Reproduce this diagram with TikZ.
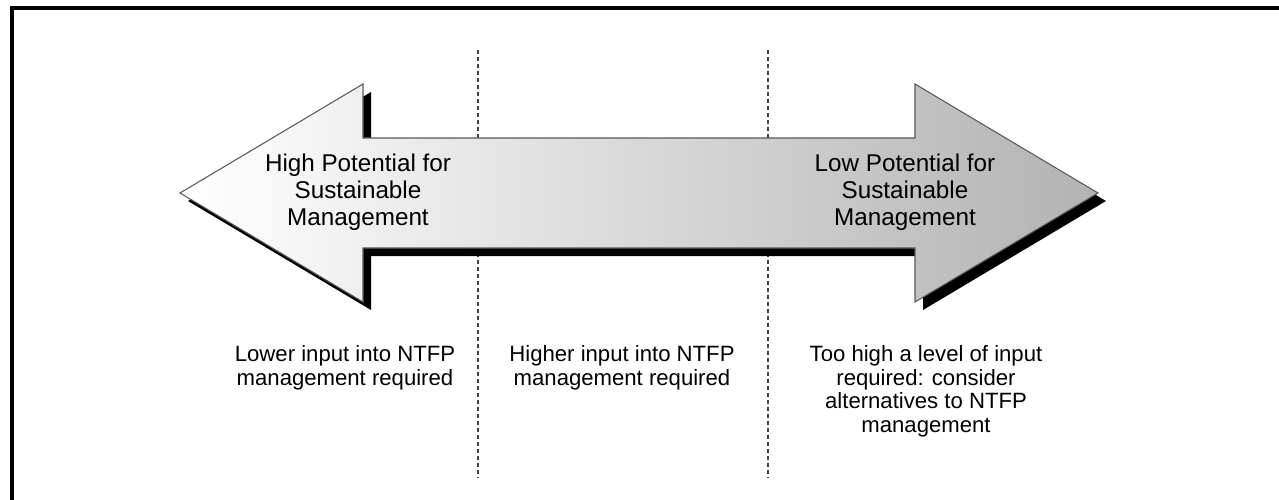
\documentclass[tikz,border=0pt]{standalone}
\usepackage{fontspec}
\setmainfont{Liberation Sans}
\usepackage{xcolor}
\usepackage{tikz}
\usetikzlibrary{positioning}
\tikzset{every node/.style={align=center}}

\newcommand{\dblarrow}{(180,193) -- (363,84) -- (363,138) -- (915,138) -- (915,84) -- (1098,193)
  -- (915,302) -- (915,248) -- (363,248) -- (363,302) -- cycle}

\begin{document}
\begin{tikzpicture}[
    x=0.02cm, y=-0.02cm,
    frame/.style={line width=2.2pt},
    divider/.style={dashed, dash pattern=on 0.08cm off 0.06cm, line width=0.7pt, black!75},
    shaftfill/.style={left color=white, right color=black!30, draw=black!65, line width=0.6pt},
    bigtxt/.style={font=\fontsize{13.8}{15.4}\selectfont},
    smalltxt/.style={font=\fontsize{12.6}{13.5}\selectfont, anchor=north, inner sep=0pt}
]
  \useasboundingbox (0,0) rectangle (1279,500);
  \clip (0,0) rectangle (1279,500);

  \draw[frame] (12,8) rectangle (1300,520);

  \foreach \x in {478,768}
      \draw[divider] (\x,50) -- (\x,478);

  \fill[black, shift={(8,8)}] \dblarrow;
  \path[shaftfill] \dblarrow;

  \node[bigtxt] (highpot) at (358,192) {High Potential for\\Sustainable\\Management};
  \node[bigtxt] (lowpot)  at (905,192) {Low Potential for\\Sustainable\\Management};

  \node[smalltxt] (lowerin)  at (345,345) {Lower input into NTFP\\management required};
  \node[smalltxt] (higherin) at (622,345) {Higher input into NTFP\\management required};
  \node[smalltxt] (toohigh)  at (926,345) {Too high a level of input\\required: consider\\alternatives to NTFP\\management};
\end{tikzpicture}
\end{document}
